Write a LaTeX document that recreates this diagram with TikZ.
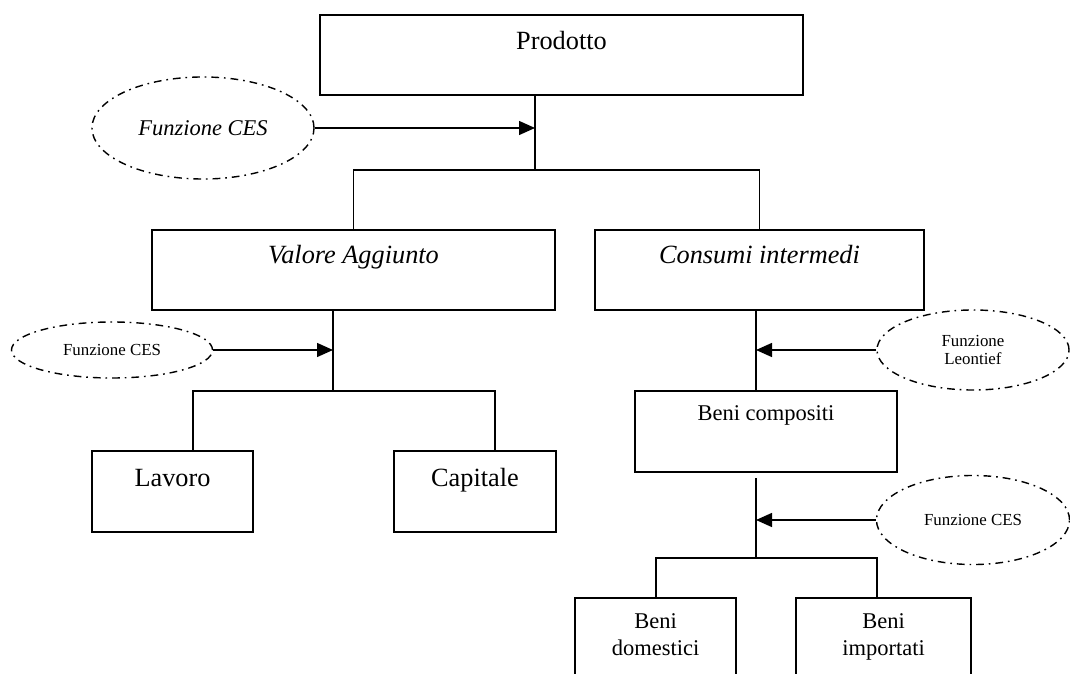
\documentclass[tikz,border=0pt]{standalone}
\usepackage{fontspec}
\setmainfont{Liberation Serif}
\usetikzlibrary{shapes.geometric,arrows.meta}

\begin{document}
\begin{tikzpicture}[x=0.025cm, y=-0.025cm, line width=1pt,
		box/.style={draw, rectangle, inner sep=0pt},
		bigbox/.style={box, font=\fontsize{18.7}{22}\selectfont},
		midbox/.style={box, font=\fontsize{16}{19}\selectfont},
		fun/.style={draw, ellipse, inner sep=0pt, align=center, dash pattern=on 5.5pt off 3.5pt on 1.2pt off 3.5pt, font=\fontsize{12}{13.5}\selectfont},
		link/.style={-{Triangle[length=4mm,width=3.5mm]}}]
		\useasboundingbox (0,0) rectangle (1070,674);
		\clip (0,0) rectangle (1070,674);
		\node[bigbox, minimum width=12.075cm, text height=0.875cm, text depth=1.125cm] (prod) at (561.5,55) {Prodotto};
		\node[bigbox, minimum width=10.075cm, text height=0.85cm, text depth=1.15cm] (va) at (353.5,270) {\itshape Valore Aggiunto};
		\node[bigbox, minimum width=8.225cm, text height=0.85cm, text depth=1.15cm] (ci) at (759.5,270) {\itshape Consumi intermedi};
		\node[bigbox, minimum width=4.025cm, text height=0.9cm, text depth=1.125cm] (lav) at (172.5,491.5) {Lavoro};
		\node[bigbox, minimum width=4.05cm, text height=0.9cm, text depth=1.125cm] (cap) at (475,491.5) {Capitale};
		\node[midbox, minimum width=6.55cm, text height=0.75cm, text depth=1.275cm] (bc) at (766,431.5) {Beni compositi};
		\node[midbox, minimum width=4.025cm, text height=1.425cm, text depth=1.075cm] (bd) at (655.5,648) {\begin{tabular}[b]{@{}c@{}}Beni\\domestici\end{tabular}};
		\node[midbox, minimum width=4.375cm, text height=1.425cm, text depth=1.075cm] (bi) at (883.5,648) {\begin{tabular}[b]{@{}c@{}}Beni\\importati\end{tabular}};
		\node[fun, minimum width=5.55cm, minimum height=2.55cm, font=\fontsize{16}{19}\selectfont\itshape] (ces1) at (203,128) {Funzione CES};
		\node[fun, minimum width=5.025cm, minimum height=1.4cm] (ces2) at (112,350) {Funzione CES};
		\node[fun, minimum width=4.8cm, minimum height=2cm] (leon) at (973,350) {Funzione\\Leontief};
		\node[fun, minimum width=4.825cm, minimum height=2.225cm] (ces3) at (973,520) {Funzione CES};
		\coordinate (pj) at (535,170);
		\coordinate (vj) at (333,391);
		\coordinate (vl) at (193,391);
		\coordinate (vr) at (495,391);
		\coordinate (ctop) at (756,478);
		\coordinate (bj) at (756,558);
		\coordinate (bl) at (656,558);
		\coordinate (br) at (877,558);
		\draw (prod.south -| pj) -- (pj);
		\draw (va.north) |- (pj) -| (ci.north);
		\draw (va.south -| vj) -- (vj);
		\draw (lav.north -| vl) -- (vl) -- (vr) -- (cap.north -| vr);
		\draw (ci.south -| ctop) -- (bc.north -| ctop);
		\draw (ctop) -- (bj);
		\draw (bd.north -| bl) -- (bl) -- (br) -- (bi.north -| br);
		\draw[link] (ces1.east) -- (ces1.east -| pj);
		\draw[link] (ces2.east) -- (ces2.east -| vj);
		\draw[link] (leon.west) -- (leon.west -| ctop);
		\draw[link] (ces3.west) -- (ces3.west -| ctop);
	\end{tikzpicture}
\end{document}
